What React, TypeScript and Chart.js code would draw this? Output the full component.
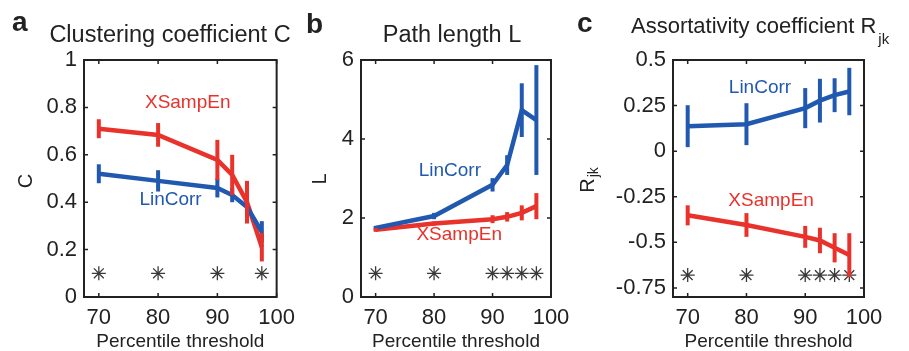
import React, { useEffect, useRef } from "react";
import { Chart, registerables } from "chart.js";
Chart.register(...registerables);

const FONT = '"Liberation Sans", Arial, Helvetica, sans-serif';
const RED = "#e8322b";
const BLUE = "#2159b0";
const INK = "#222222";
const W = 909;
const H = 351;

// ---------- data ----------
const thresholds = [70, 80, 90, 92.5, 95, 97.5];
const xTickValues = [70, 80, 90, 100];

const clusteringLinCorr = [0.52, 0.49, 0.46, 0.43, 0.38, 0.275];
const clusteringLinCorrErr = [0.04, 0.045, 0.04, 0.03, 0.03, 0.045];
const clusteringXSampEn = [0.71, 0.684, 0.578, 0.515, 0.4, 0.21];
const clusteringXSampEnErr = [0.04, 0.05, 0.085, 0.085, 0.09, 0.06];
const clusteringStarX = [70, 80, 90, 97.5];
const clusteringStarLevel = 0.1;
const clusteringTicks = [0, 0.2, 0.4, 0.6, 0.8, 1];

const pathLinCorr = [1.75, 2.05, 2.84, 3.34, 4.73, 4.48];
const pathLinCorrErr = [0.05, 0.08, 0.17, 0.25, 0.68, 1.39];
const pathXSampEn = [1.7, 1.86, 1.97, 2.03, 2.13, 2.3];
const pathXSampEnErr = [0.05, 0.05, 0.1, 0.12, 0.19, 0.33];
const pathStarX = [70, 80, 90, 92.5, 95, 97.5];
const pathStarLevel = 0.6;
const pathTicks = [0, 2, 4, 6];

const assortLinCorr = [0.137, 0.148, 0.236, 0.277, 0.307, 0.327];
const assortLinCorrErr = [0.115, 0.115, 0.11, 0.12, 0.093, 0.13];
const assortXSampEn = [-0.352, -0.405, -0.47, -0.49, -0.53, -0.57];
const assortXSampEnErr = [0.055, 0.065, 0.06, 0.07, 0.08, 0.12];
const assortStarX = [70, 80, 90, 92.5, 95, 97.5];
const assortStarLevel = -0.68;
const assortTicks = [-0.75, -0.5, -0.25, 0, 0.25, 0.5];

// ---------- panel layout ----------
type Panel = {
  canvasLeft: number;
  canvasWidth: number;
  area: { left: number; right: number; top: number; bottom: number };
  yMin: number;
  yMax: number;
  yTicks: number[];
  lin: number[];
  linErr: number[];
  xs: number[];
  xsErr: number[];
  starX: number[];
  starLevel: number;
  letter: { text: string; x: number; y: number };
  title: { text: string; sub?: string; x: number; y: number; size: number; align: CanvasTextAlign };
  yTitle: { text: string; sub?: string; x: number; y: number };
  linLabel: { x: number; y: number };
  xsLabel: { x: number; y: number };
};

const panels: Panel[] = [
  {
    canvasLeft: 0,
    canvasWidth: 303,
    area: { left: 84, right: 277, top: 60, bottom: 297 },
    yMin: 0,
    yMax: 1,
    yTicks: clusteringTicks,
    lin: clusteringLinCorr,
    linErr: clusteringLinCorrErr,
    xs: clusteringXSampEn,
    xsErr: clusteringXSampEnErr,
    starX: clusteringStarX,
    starLevel: clusteringStarLevel,
    letter: { text: "a", x: 12, y: 31 },
    title: { text: "Clustering coefficient C", x: 170, y: 42, size: 23.5, align: "center" },
    yTitle: { text: "C", x: 26, y: 181 },
    linLabel: { x: 82.1, y: 0.41 },
    xsLabel: { x: 85.0, y: 0.82 },
  },
  {
    canvasLeft: 303,
    canvasWidth: 287,
    area: { left: 361, right: 551, top: 60, bottom: 297 },
    yMin: 0,
    yMax: 6,
    yTicks: pathTicks,
    lin: pathLinCorr,
    linErr: pathLinCorrErr,
    xs: pathXSampEn,
    xsErr: pathXSampEnErr,
    starX: pathStarX,
    starLevel: pathStarLevel,
    letter: { text: "b", x: 306, y: 33 },
    title: { text: "Path length L", x: 452, y: 42, size: 23.5, align: "center" },
    yTitle: { text: "L", x: 320, y: 179 },
    linLabel: { x: 82.7, y: 3.2 },
    xsLabel: { x: 84.3, y: 1.57 },
  },
  {
    canvasLeft: 565,
    canvasWidth: 344,
    area: { left: 673, right: 864, top: 60, bottom: 297 },
    yMin: -0.8,
    yMax: 0.5,
    yTicks: assortTicks,
    lin: assortLinCorr,
    linErr: assortLinCorrErr,
    xs: assortXSampEn,
    xsErr: assortXSampEnErr,
    starX: assortStarX,
    starLevel: assortStarLevel,
    letter: { text: "c", x: 577, y: 32 },
    title: { text: "Assortativity coefficient R", sub: "jk", x: 631, y: 33, size: 22, align: "left" },
    yTitle: { text: "R", sub: "jk", x: 588, y: 180 },
    linLabel: { x: 82.3, y: 0.346 },
    xsLabel: { x: 84.2, y: -0.27 },
  },
];

function decorPlugin(p: Panel) {
  return {
    id: "decor",
    afterDatasetsDraw(chart: any) {
      const ctx = chart.ctx as CanvasRenderingContext2D;
      const xs = chart.scales.x;
      const ys = chart.scales.y;
      ctx.save();
      chart.data.datasets.forEach((ds: any) => {
        if (!ds.errors) return;
        ctx.strokeStyle = ds.borderColor;
        ctx.lineWidth = 4;
        ctx.lineCap = "butt";
        ds.data.forEach((pt: any, i: number) => {
          const e = ds.errors[i];
          const px = xs.getPixelForValue(pt.x);
          ctx.beginPath();
          ctx.moveTo(px, ys.getPixelForValue(pt.y - e));
          ctx.lineTo(px, ys.getPixelForValue(pt.y + e));
          ctx.stroke();
        });
      });
      ctx.restore();
    },
    afterDraw(chart: any) {
      const ctx = chart.ctx as CanvasRenderingContext2D;
      const a = chart.chartArea;
      const xs = chart.scales.x;
      const ys = chart.scales.y;
      const off = p.canvasLeft;
      ctx.save();
      // box
      ctx.strokeStyle = INK;
      ctx.lineWidth = 2;
      ctx.strokeRect(a.left, a.top, a.right - a.left, a.bottom - a.top);
      // inward ticks
      ctx.lineWidth = 1.5;
      const tl = 4;
      xTickValues.forEach((v) => {
        const px = xs.getPixelForValue(v);
        ctx.beginPath();
        ctx.moveTo(px, a.bottom);
        ctx.lineTo(px, a.bottom - tl);
        ctx.moveTo(px, a.top);
        ctx.lineTo(px, a.top + tl);
        ctx.stroke();
      });
      p.yTicks.forEach((v) => {
        const py = ys.getPixelForValue(v);
        ctx.beginPath();
        ctx.moveTo(a.left, py);
        ctx.lineTo(a.left + tl, py);
        ctx.moveTo(a.right, py);
        ctx.lineTo(a.right - tl, py);
        ctx.stroke();
      });
      // series labels
      ctx.textAlign = "center";
      ctx.textBaseline = "middle";
      ctx.font = `19px ${FONT}`;
      ctx.fillStyle = BLUE;
      ctx.fillText("LinCorr", xs.getPixelForValue(p.linLabel.x), ys.getPixelForValue(p.linLabel.y));
      ctx.fillStyle = RED;
      ctx.fillText("XSampEn", xs.getPixelForValue(p.xsLabel.x), ys.getPixelForValue(p.xsLabel.y));
      // panel letter
      ctx.fillStyle = INK;
      ctx.textAlign = "left";
      ctx.textBaseline = "alphabetic";
      ctx.font = `bold 28px ${FONT}`;
      ctx.fillText(p.letter.text, p.letter.x - off, p.letter.y);
      // title
      ctx.font = `${p.title.size}px ${FONT}`;
      ctx.textAlign = p.title.align;
      ctx.fillText(p.title.text, p.title.x - off, p.title.y);
      if (p.title.sub) {
        const w = ctx.measureText(p.title.text).width;
        ctx.font = `15px ${FONT}`;
        ctx.textAlign = "left";
        ctx.fillText(p.title.sub, p.title.x - off + w + 2, p.title.y + 11);
      }
      // x title
      ctx.font = `19px ${FONT}`;
      ctx.textAlign = "center";
      ctx.fillText("Percentile threshold", (a.left + a.right) / 2, 347);
      // y title (rotated)
      ctx.translate(p.yTitle.x - off, p.yTitle.y);
      ctx.rotate(-Math.PI / 2);
      ctx.font = `20px ${FONT}`;
      ctx.textBaseline = "middle";
      if (p.yTitle.sub) {
        const wR = ctx.measureText(p.yTitle.text).width;
        ctx.font = `14px ${FONT}`;
        const wS = ctx.measureText(p.yTitle.sub).width;
        const start = -(wR + wS + 1) / 2;
        ctx.textAlign = "left";
        ctx.font = `20px ${FONT}`;
        ctx.fillText(p.yTitle.text, start, 0);
        ctx.font = `14px ${FONT}`;
        ctx.fillText(p.yTitle.sub, start + wR + 1, 6);
      } else {
        ctx.fillText(p.yTitle.text, 0, 0);
      }
      ctx.restore();
    },
  };
}

function PanelChart({ p }: { p: Panel }) {
  const ref = useRef<HTMLCanvasElement>(null);
  useEffect(() => {
    const canvas = ref.current!;
    const chart = new Chart(canvas, {
      type: "line",
      data: {
        datasets: [
          {
            label: "LinCorr",
            data: thresholds.map((x, i) => ({ x, y: p.lin[i] })),
            borderColor: BLUE,
            backgroundColor: BLUE,
            borderWidth: 4.5,
            pointRadius: 0,
            tension: 0,
            errors: p.linErr,
          } as any,
          {
            label: "XSampEn",
            data: thresholds.map((x, i) => ({ x, y: p.xs[i] })),
            borderColor: RED,
            backgroundColor: RED,
            borderWidth: 4.5,
            pointRadius: 0,
            tension: 0,
            errors: p.xsErr,
          } as any,
          {
            label: "significant",
            data: p.starX.map((x) => ({ x, y: p.starLevel })),
            showLine: false,
            pointStyle: "star",
            pointRadius: 7,
            borderColor: "#3a3a3a",
            backgroundColor: "#3a3a3a",
            pointBorderWidth: 1.3,
          } as any,
        ],
      },
      options: {
        responsive: false,
        animation: false,
        events: [],
        layout: {
          padding: {
            left: 0,
            top: p.area.top,
            right: p.canvasLeft + p.canvasWidth - p.area.right,
            bottom: 0,
          },
        },
        plugins: {
          legend: { display: false },
          tooltip: { enabled: false },
          title: { display: false },
        },
        scales: {
          x: {
            type: "linear",
            min: 67.5,
            max: 100,
            grid: { display: false, drawTicks: false },
            border: { display: false },
            ticks: {
              padding: 8,
              color: INK,
              font: { size: 22, family: FONT },
              maxRotation: 0,
              autoSkip: false,
              callback: (v: any) => String(v),
            },
            afterBuildTicks: (s: any) => {
              s.ticks = xTickValues.map((v) => ({ value: v }));
            },
            afterFit: (s: any) => {
              s.height = H - p.area.bottom;
            },
          },
          y: {
            type: "linear",
            min: p.yMin,
            max: p.yMax,
            grid: { display: false, drawTicks: false },
            border: { display: false },
            ticks: {
              padding: 7,
              color: INK,
              font: { size: 22, family: FONT },
              autoSkip: false,
              callback: (v: any) => String(v),
            },
            afterBuildTicks: (s: any) => {
              s.ticks = p.yTicks.map((v) => ({ value: v }));
            },
            afterFit: (s: any) => {
              s.width = p.area.left - p.canvasLeft;
            },
          },
        },
      },
      plugins: [decorPlugin(p)],
    } as any);
    return () => chart.destroy();
  }, [p]);
  return (
    <canvas
      ref={ref}
      width={p.canvasWidth}
      height={H}
      style={{ position: "absolute", left: p.canvasLeft, top: 0, width: p.canvasWidth, height: H }}
    />
  );
}

export default function App() {
  return (
    <div style={{ position: "fixed", left: 0, top: 0, width: W, height: H, background: "#ffffff", overflow: "hidden" }}>
      {panels.map((p, i) => (
        <PanelChart key={i} p={p} />
      ))}
    </div>
  );
}
